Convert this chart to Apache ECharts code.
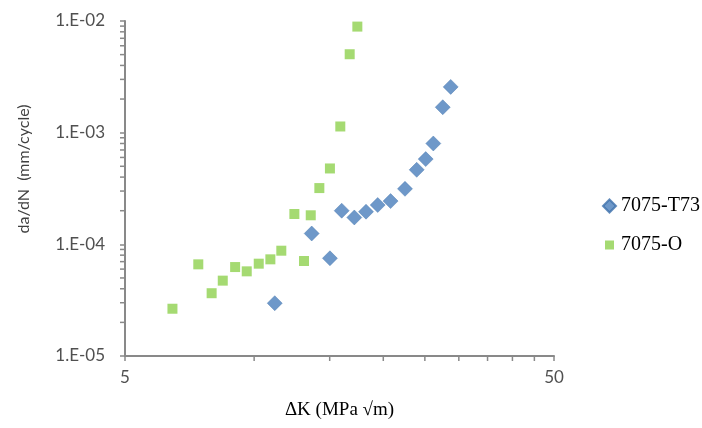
<!DOCTYPE html>
<html>
<head>
<meta charset="utf-8">
<script src="https://cdn.jsdelivr.net/npm/echarts@6/dist/echarts.min.js"></script>
<style>html,body{margin:0;padding:0;background:#fff}#c{width:702px;height:428px}</style>
</head>
<body>
<div id="c"></div>
<script>
// ---- data ----
const seriesNames = ['7075-T73', '7075-O'];
const t73Data = [
  [11.17, 2.97e-5], [13.62, 1.25e-4], [15.02, 7.5e-5], [16.0, 2.0e-4], [17.12, 1.74e-4],
  [18.23, 1.96e-4], [19.41, 2.25e-4], [20.8, 2.44e-4], [22.47, 3.14e-4], [23.93, 4.65e-4],
  [25.11, 5.8e-4], [26.16, 8.0e-4], [27.52, 1.69e-3], [28.72, 2.57e-3]
];
const oData = [
  [6.45, 2.65e-5], [7.41, 6.62e-5], [7.96, 3.65e-5], [8.45, 4.73e-5], [9.03, 6.26e-5],
  [9.61, 5.73e-5], [10.25, 6.71e-5], [10.91, 7.34e-5], [11.57, 8.77e-5], [12.41, 1.87e-4],
  [13.07, 7.09e-5], [13.55, 1.82e-4], [14.19, 3.19e-4], [15.02, 4.78e-4], [15.88, 1.136e-3],
  [16.7, 5.04e-3], [17.4, 8.91e-3]
];
const xMin = 5, xMax = 50;
const yMin = 1e-5, yMax = 1e-2;
const xTickValues = [5, 10, 15, 20, 25, 30, 35, 40, 45, 50];
const xLabelValues = [5, 50];
const yMinorTicks = [
  2e-5, 3e-5, 4e-5, 5e-5, 6e-5, 7e-5, 8e-5, 9e-5,
  2e-4, 3e-4, 4e-4, 5e-4, 6e-4, 7e-4, 8e-4, 9e-4,
  2e-3, 3e-3, 4e-3, 5e-3, 6e-3, 7e-3, 8e-3, 9e-3
];
const xTitle = 'ΔK (MPa √m)';
const yTitle = 'da/dN  (mm/cycle)';

// ---- styles ----
const axisColor = '#898989';
const labelColor = '#505050';
const blue = '#4A7EBB';
const green = '#8FD14F';
const sansFont = 'Lato, "Liberation Sans", sans-serif';
const serifFont = '"Liberation Serif", "DejaVu Serif", serif';

const chart = echarts.init(document.getElementById('c'), null, {renderer: 'canvas'});

function fmtY(v) {
  const e = Math.round(Math.log10(v));
  const s = Math.abs(e) < 10 ? '0' + Math.abs(e) : '' + Math.abs(e);
  return '1.E' + (e < 0 ? '-' : '+') + s;
}

chart.setOption({
  backgroundColor: '#fff',
  animation: false,
  grid: {left: 125, right: 148, top: 21, bottom: 72},
  legend: {
    orient: 'vertical', left: 602, top: 196, padding: 0,
    itemWidth: 13, itemHeight: 13, itemGap: 19,
    data: [
      {name: seriesNames[0], icon: 'diamond'},
      {name: seriesNames[1], icon: 'path://M0,0M13,13M2,2h9v9h-9z'}
    ],
    textStyle: {fontFamily: serifFont, fontSize: 20, color: '#000'}
  },
  graphic: [{
    type: 'text', x: 24, y: 169, rotation: Math.PI / 2,
    style: {text: yTitle, font: '16px ' + sansFont, fill: '#404040', align: 'center', verticalAlign: 'middle'}
  }],
  xAxis: {
    type: 'log', logBase: 10, min: xMin, max: xMax,
    name: xTitle, nameLocation: 'middle', nameGap: 45,
    nameTextStyle: {fontFamily: serifFont, fontSize: 19, color: '#000'},
    axisLine: {lineStyle: {color: axisColor, width: 2}},
    axisTick: {show: false}, axisLabel: {show: false}, splitLine: {show: false}, minorTick: {show: false}
  },
  yAxis: {
    type: 'log', logBase: 10, min: yMin, max: yMax,
    axisLine: {show: true, lineStyle: {color: axisColor, width: 2}},
    axisTick: {show: true, length: 5, lineStyle: {color: axisColor, width: 1.5}},
    axisLabel: {formatter: fmtY, margin: 20, fontFamily: sansFont, fontSize: 17, color: labelColor},
    splitLine: {show: false}
  },
  series: [
    {
      name: seriesNames[0], type: 'scatter', data: t73Data,
      symbol: 'diamond', symbolSize: 15, z: 5,
      itemStyle: {color: blue, borderColor: '#3f70ab', borderWidth: 0.5}
    },
    {
      name: seriesNames[1], type: 'scatter', data: oData,
      symbol: 'rect', symbolSize: 10, z: 5,
      itemStyle: {color: green}
    },
    {
      name: 'xticks', type: 'custom', silent: true, clip: false, z: 1,
      data: xTickValues.map(v => [v, yMin]),
      renderItem: (params, api) => {
        const p = api.coord([api.value(0), api.value(1)]);
        return {type: 'line', shape: {x1: p[0], y1: p[1], x2: p[0], y2: p[1] + 5},
          style: {stroke: axisColor, lineWidth: 1.5}};
      }
    },
    {
      name: 'xlabels', type: 'custom', silent: true, clip: false, z: 1,
      data: xLabelValues.map(v => [v, yMin]),
      renderItem: (params, api) => {
        const v = api.value(0);
        const p = api.coord([v, api.value(1)]);
        return {type: 'text', x: p[0], y: p[1] + 13,
          style: {text: String(v), align: 'center', verticalAlign: 'top',
            font: '17px ' + sansFont, fill: labelColor}};
      }
    },
    {
      name: 'yticks', type: 'custom', silent: true, clip: false, z: 1,
      data: yMinorTicks.map(v => [xMin, v]),
      renderItem: (params, api) => {
        const p = api.coord([api.value(0), api.value(1)]);
        return {type: 'line', shape: {x1: p[0] - 5, y1: p[1], x2: p[0], y2: p[1]},
          style: {stroke: axisColor, lineWidth: 1.5}};
      }
    }
  ]
});
</script>
</body>
</html>
